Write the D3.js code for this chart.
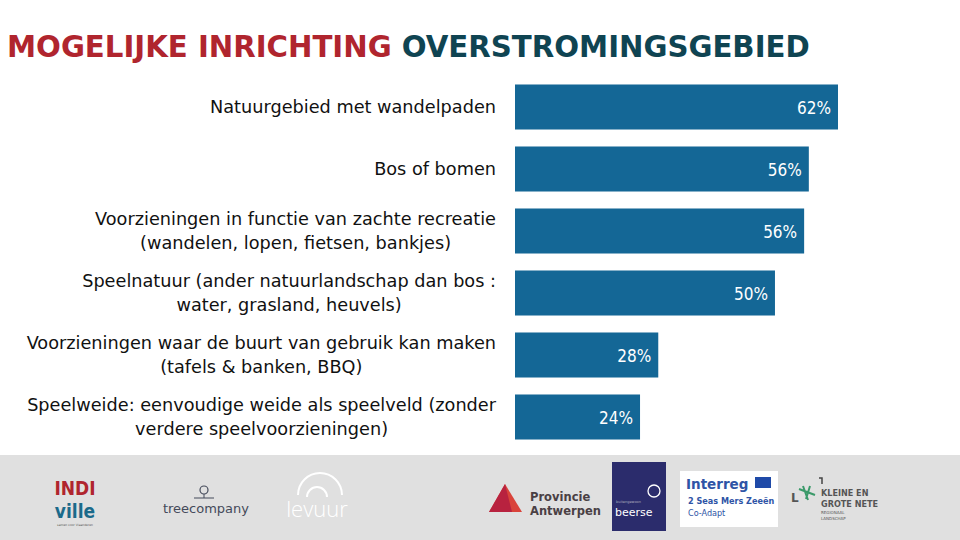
<!DOCTYPE html>
<html><head><meta charset="utf-8">
<script src="https://cdn.jsdelivr.net/npm/d3@7"></script>
<style>body{margin:0;background:#fff}svg{display:block}</style>
</head><body>
<script>
const categories = [
  ["Natuurgebied met wandelpaden"],
  ["Bos of bomen"],
  ["Voorzieningen in functie van zachte recreatie", "(wandelen, lopen, fietsen, bankjes)"],
  ["Speelnatuur (ander natuurlandschap dan bos :", "water, grasland, heuvels)"],
  ["Voorzieningen waar de buurt van gebruik kan maken", "(tafels & banken, BBQ)"],
  ["Speelweide: eenvoudige weide als speelveld (zonder", "verdere speelvoorzieningen)"]
];
const values = [62.0, 56.4, 55.5, 49.9, 27.5, 24.0];
const valueLabels = ["62%", "56%", "56%", "50%", "28%", "24%"];
const titleParts = ["MOGELIJKE INRICHTING ", "OVERSTROMINGSGEBIED"];

const W = 960, H = 540;
const svg = d3.select("body").append("svg").attr("width", W).attr("height", H);

// title
const titleG = svg.append("g");
const title = titleG.append("text").attr("x", 0).attr("y", 0)
  .style("font-family", "'DejaVu Sans Condensed','DejaVu Sans',sans-serif")
  .style("font-size", "31px").style("font-weight", "600");
title.append("tspan").attr("fill", "#b0252e").text(titleParts[0]);
title.append("tspan").attr("fill", "#0f4452").text(titleParts[1]);
const tw = title.node().getComputedTextLength();
titleG.attr("transform", `translate(7,57) scale(${803 / tw},1)`);

const x = d3.scaleLinear().domain([0, 62]).range([515, 838]);
const y = d3.scaleBand().domain(d3.range(values.length)).range([76, 448]).paddingInner(0.274).paddingOuter(0.137);

svg.selectAll("rect.bar").data(values).join("rect").attr("class", "bar")
  .attr("x", x(0)).attr("y", (d, i) => y(i))
  .attr("width", d => x(d) - x(0)).attr("height", y.bandwidth())
  .attr("fill", "#146796");

svg.selectAll("text.val").data(values).join("text").attr("class", "val")
  .attr("x", d => x(d) - 7).attr("y", (d, i) => y(i) + y.bandwidth() / 2 + 7)
  .attr("text-anchor", "end").attr("fill", "#fff")
  .style("font-family", "'DejaVu Sans Condensed','DejaVu Sans',sans-serif").style("font-size", "17px")
  .text((d, i) => valueLabels[i]);

const catFont = "17.7px";
const lab = svg.selectAll("text.cat").data(categories).join("text").attr("class", "cat")
  .attr("text-anchor", "middle")
  .style("font-family", "'DejaVu Sans',sans-serif").style("font-size", catFont).attr("fill", "#111");
lab.each(function(lines, i) {
  const t = d3.select(this);
  const cy = y(i) + y.bandwidth() / 2;
  const lh = 24;
  const y0 = cy - (lines.length - 1) * lh / 2 + 6;
  const tmp = svg.append("text").style("font-family", "'DejaVu Sans',sans-serif").style("font-size", catFont);
  let maxw = 0;
  lines.forEach(l => { tmp.text(l); maxw = Math.max(maxw, tmp.node().getComputedTextLength()); });
  tmp.remove();
  const cx = 496 - maxw / 2;
  lines.forEach((l, j) => t.append("tspan").attr("x", cx).attr("y", y0 + j * lh).text(l));
});

// footer band with logos
const foot = svg.append("g");
const ff = "'DejaVu Sans',sans-serif";
foot.append("rect").attr("x", 0).attr("y", 455).attr("width", W).attr("height", 85).attr("fill", "#e0e0e0");
// INDI ville
foot.append("text").attr("x", 75).attr("y", 495).attr("text-anchor", "middle").attr("fill", "#b0252e")
  .style("font-family", "'DejaVu Sans Condensed',sans-serif").style("font-weight", "bold").style("font-size", "19px").text("INDI");
foot.append("text").attr("x", 75).attr("y", 518).attr("text-anchor", "middle").attr("fill", "#1b6a8a")
  .style("font-family", "'DejaVu Sans Condensed',sans-serif").style("font-weight", "bold").style("font-size", "19px").text("ville");
foot.append("text").attr("x", 75).attr("y", 526).attr("text-anchor", "middle").attr("fill", "#555")
  .style("font-family", ff).style("font-size", "3px").text("samen voor Vlaanderen");
// treecompany
foot.append("circle").attr("cx", 204).attr("cy", 490).attr("r", 4).attr("fill", "none").attr("stroke", "#444a5a").attr("stroke-width", 1.2);
foot.append("line").attr("x1", 204).attr("x2", 204).attr("y1", 494).attr("y2", 498).attr("stroke", "#444a5a");
foot.append("line").attr("x1", 194).attr("x2", 214).attr("y1", 498).attr("y2", 498).attr("stroke", "#444a5a");
foot.append("text").attr("x", 206).attr("y", 513).attr("text-anchor", "middle").attr("fill", "#444a5a")
  .style("font-family", ff).style("font-size", "13px").text("treecompany");
// levuur
foot.append("path").attr("d", "M298,495 A17,17 0 0 1 342,495").attr("fill", "none").attr("stroke", "#fff").attr("stroke-width", 2);
foot.append("path").attr("d", "M307,497 A9,9 0 0 1 327,497").attr("fill", "none").attr("stroke", "#fff").attr("stroke-width", 2);
foot.append("text").attr("x", 317).attr("y", 517).attr("text-anchor", "middle").attr("fill", "#fff")
  .style("font-family", "'Open Sans',sans-serif").style("font-size", "22px").style("font-weight", "300").text("levuur");
// Provincie Antwerpen
foot.append("path").attr("d", "M505,484 L522,512 L489,512 Z").attr("fill", "#d9433a");
foot.append("path").attr("d", "M505,484 L512,512 L489,512 Z").attr("fill", "#b8223f");
foot.append("text").attr("x", 530).attr("y", 501).attr("fill", "#4a3f44")
  .style("font-family", ff).style("font-weight", "bold").style("font-size", "11.5px").text("Provincie");
foot.append("text").attr("x", 530).attr("y", 515).attr("fill", "#4a3f44")
  .style("font-family", ff).style("font-weight", "bold").style("font-size", "11.5px").text("Antwerpen");
// beerse
foot.append("rect").attr("x", 612).attr("y", 462).attr("width", 54).attr("height", 69).attr("fill", "#2b2c6c");
foot.append("circle").attr("cx", 654).attr("cy", 491).attr("r", 6).attr("fill", "none").attr("stroke", "#fff").attr("stroke-width", 1.3);
foot.append("text").attr("x", 616).attr("y", 503).attr("fill", "#aab")
  .style("font-family", ff).style("font-size", "3.5px").text("buitengewoon");
foot.append("text").attr("x", 615).attr("y", 516).attr("fill", "#fff")
  .style("font-family", ff).style("font-size", "11px").text("beerse");
// Interreg
foot.append("rect").attr("x", 680).attr("y", 471).attr("width", 98).attr("height", 56).attr("fill", "#fff");
foot.append("text").attr("x", 686).attr("y", 489).attr("fill", "#2e54a6")
  .style("font-family", ff).style("font-weight", "700").style("font-size", "13.5px").text("Interreg");
foot.append("rect").attr("x", 755).attr("y", 477).attr("width", 16).attr("height", 11).attr("fill", "#1f4aa8");
foot.append("text").attr("x", 688).attr("y", 504).attr("fill", "#2e54a6")
  .style("font-family", "'DejaVu Sans Condensed',sans-serif").style("font-weight", "bold").style("font-size", "9px").text("2 Seas Mers Zeeën");
foot.append("text").attr("x", 688).attr("y", 516).attr("fill", "#2e54a6")
  .style("font-family", "'DejaVu Sans Condensed',sans-serif").style("font-size", "9px").text("Co-Adapt");
// Kleine en Grote Nete
foot.append("text").attr("x", 791).attr("y", 502).attr("fill", "#555")
  .style("font-family", ff).style("font-weight", "bold").style("font-size", "12px").text("L");
foot.append("path").attr("d", "M799,489 L815,495 M803,486 L808,500 M810,486 L806,499").attr("stroke", "#3b9a6a").attr("stroke-width", 2).attr("fill", "none");
foot.append("path").attr("d", "M819,478 L822,478 L822,484").attr("stroke", "#444").attr("stroke-width", 1.5).attr("fill", "none");
foot.append("text").attr("x", 821).attr("y", 496).attr("fill", "#555")
  .style("font-family", "'DejaVu Sans Condensed',sans-serif").style("font-weight", "bold").style("font-size", "9px").text("KLEINE EN");
foot.append("text").attr("x", 821).attr("y", 507).attr("fill", "#555")
  .style("font-family", "'DejaVu Sans Condensed',sans-serif").style("font-weight", "bold").style("font-size", "9px").text("GROTE NETE");
foot.append("text").attr("x", 821).attr("y", 514).attr("fill", "#555")
  .style("font-family", ff).style("font-size", "4px").text("REGIONAAL");
foot.append("text").attr("x", 821).attr("y", 520).attr("fill", "#555")
  .style("font-family", ff).style("font-size", "4px").text("LANDSCHAP");
</script>
</body></html>
